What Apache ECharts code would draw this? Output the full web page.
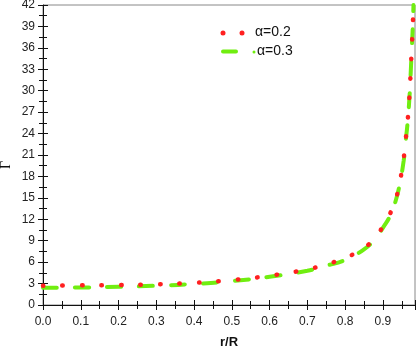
<!DOCTYPE html>
<html>
<head>
<meta charset="utf-8">
<script src="https://cdn.jsdelivr.net/npm/echarts@6/dist/echarts.min.js"></script>
<style>
  html, body { margin: 0; padding: 0; background: #fff; }
  #main { width: 416px; height: 348px; }
</style>
</head>
<body>
<div id="main"></div>
<script>
// r/R positions and Gamma values
var rA02 = [0, 0.1, 0.2, 0.3, 0.4, 0.5, 0.6, 0.7, 0.75, 0.8, 0.85, 0.88, 0.9, 0.92, 0.935, 0.945, 0.955, 0.96, 0.965, 0.97, 0.973, 0.976, 0.979, 0.981];
var gA02 = [2.7, 2.75, 2.8, 2.9, 3.1, 3.5, 4.1, 5.0, 5.7, 6.6, 8.0, 9.5, 11.0, 12.9, 15.0, 17.3, 20.5, 23.0, 25.5, 29.0, 32.0, 35.5, 39.0, 42.0];
var rA03 = [0, 0.1, 0.2, 0.3, 0.4, 0.5, 0.6, 0.7, 0.75, 0.8, 0.85, 0.88, 0.9, 0.92, 0.935, 0.945, 0.955, 0.96, 0.965, 0.97, 0.973, 0.976, 0.979, 0.981];
var gA03 = [2.4, 2.45, 2.55, 2.7, 2.95, 3.35, 3.95, 4.8, 5.5, 6.3, 7.8, 9.3, 10.8, 12.6, 14.8, 17.1, 20.2, 22.8, 25.3, 28.8, 31.8, 35.3, 38.8, 42.0];
var seriesNames = ['α=0.2', 'α=0.3'];
var red = '#ff2020';
var green = '#70ee10';

function pairs(xs, ys) {
  var out = [];
  for (var i = 0; i < xs.length; i++) out.push([xs[i], ys[i]]);
  return out;
}

var chart = echarts.init(document.getElementById('main'), null, { renderer: 'canvas' });

var labelStyle = { color: '#222', fontSize: 12, fontFamily: 'Liberation Sans' };
var legendFont = { fill: '#111', fontSize: 14, fontFamily: 'Liberation Sans', textVerticalAlign: 'middle' };

var option = {
  animation: false,
  grid: {
    left: 43, right: 1, top: 5, bottom: 43,
    outerBoundsMode: 'none', containLabel: false,
    show: true, borderColor: '#888', borderWidth: 1
  },
  // legend and y title drawn by hand so they sit where the original has them
  graphic: [
    { type: 'circle', shape: { cx: 223, cy: 33, r: 2.5 }, style: { fill: red } },
    { type: 'circle', shape: { cx: 242, cy: 33, r: 2.5 }, style: { fill: red } },
    { type: 'text', left: 255, top: 25, style: Object.assign({ text: seriesNames[0] }, legendFont) },
    { type: 'line', shape: { x1: 223, y1: 51.5, x2: 236, y2: 51.5 }, style: { stroke: green, lineWidth: 4, lineCap: 'round' } },
    { type: 'circle', shape: { cx: 254, cy: 52, r: 1.5 }, style: { fill: green } },
    { type: 'text', left: 257, top: 44, style: Object.assign({ text: seriesNames[1] }, legendFont) },
    { type: 'text', x: 6, y: 165, rotation: Math.PI / 2,
      style: { text: 'Γ', fill: '#111', fontSize: 14, fontFamily: 'Liberation Serif',
        align: 'center', verticalAlign: 'middle', textAlign: 'center', textVerticalAlign: 'middle' } }
  ],
  xAxis: [{
    type: 'value', min: 0, max: 0.985, interval: 0.1,
    name: 'r/R', nameLocation: 'middle', nameGap: 31,
    nameTextStyle: { color: '#111', fontSize: 13, fontWeight: 'bold', fontFamily: 'Liberation Sans' },
    axisLine: { lineStyle: { color: '#111', width: 1 } },
    axisTick: { inside: false, length: 5, lineStyle: { color: '#111' } },
    minorTick: { show: true, splitNumber: 2, length: 4, lineStyle: { color: '#111' } },
    axisLabel: Object.assign({ margin: 11, showMaxLabel: false, formatter: function (v) {
      return Math.abs(v * 10 - Math.round(v * 10)) < 1e-6 ? v.toFixed(1) : '';
    } }, labelStyle),
    splitLine: { show: false }
  }, {
    type: 'value', min: 0, max: 0.985, interval: 0.1, position: 'bottom',
    axisLine: { show: false },
    axisTick: { inside: true, length: 5, lineStyle: { color: '#111' } },
    minorTick: { show: true, splitNumber: 2, length: 4, lineStyle: { color: '#111' } },
    axisLabel: { show: false },
    splitLine: { show: false }
  }],
  yAxis: [{
    type: 'value', min: 0, max: 42, interval: 3,
    axisLine: { lineStyle: { color: '#111', width: 1 } },
    axisTick: { inside: false, length: 5, lineStyle: { color: '#111' } },
    minorTick: { show: true, splitNumber: 2, length: 4, lineStyle: { color: '#111' } },
    axisLabel: Object.assign({ margin: 8 }, labelStyle),
    splitLine: { show: false }
  }, {
    type: 'value', min: 0, max: 42, interval: 3, position: 'left',
    axisLine: { show: false },
    axisTick: { inside: true, length: 5, lineStyle: { color: '#111' } },
    minorTick: { show: true, splitNumber: 2, length: 4, lineStyle: { color: '#111' } },
    axisLabel: { show: false },
    splitLine: { show: false }
  }],
  series: [{
    name: seriesNames[0],
    type: 'line', smooth: true, showSymbol: false, symbol: 'none',
    xAxisIndex: 0, yAxisIndex: 0,
    color: red,
    lineStyle: { color: red, width: 4.5, type: [0.5, 19], cap: 'round' },
    data: pairs(rA02, gA02),
    z: 3
  }, {
    name: seriesNames[1],
    type: 'line', smooth: true, showSymbol: false, symbol: 'none',
    xAxisIndex: 0, yAxisIndex: 0,
    color: green,
    lineStyle: { color: green, width: 4, type: [14, 18], cap: 'round' },
    data: pairs(rA03, gA03),
    z: 2
  }]
};

chart.setOption(option);
</script>
</body>
</html>
